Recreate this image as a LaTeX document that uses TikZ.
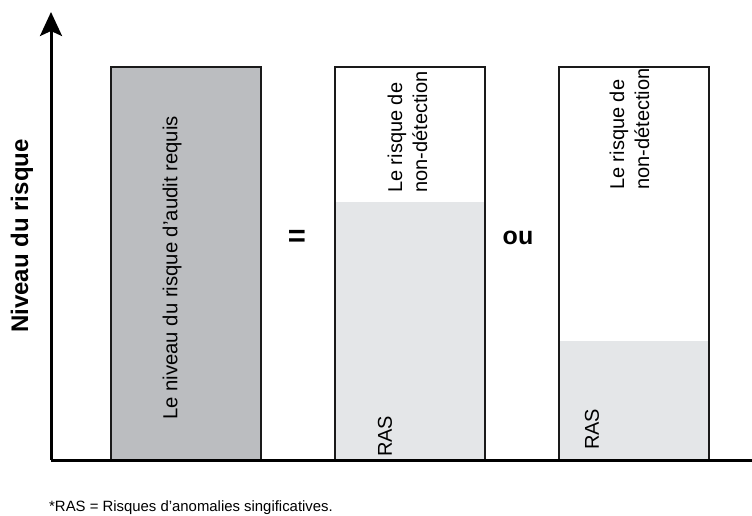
\documentclass[tikz,border=0pt]{standalone}
\usepackage{fontspec}
\setmainfont{Liberation Sans}
\usetikzlibrary{arrows.meta}
\definecolor{reqgray}{HTML}{BBBDC0}
\definecolor{rasgray}{HTML}{E4E6E8}
\definecolor{edge}{HTML}{1A1A1A}
\begin{document}
\begin{tikzpicture}[x=1pt,y=-1pt,
  bar/.style={draw=edge, line width=1.8pt, minimum width=150pt, minimum height=393pt,
              anchor=north west, inner sep=0pt, outer sep=0pt},
  vlabel/.style={rotate=90, anchor=west, inner sep=0pt, font=\fontsize{20}{25}\selectfont},
  axis/.style={line width=3pt, draw=black}]
  \useasboundingbox (0,0) rectangle (752,516);
  % risk bars
  \node[bar, fill=reqgray] (req) at (111,67) {};
  \node[bar, fill=white] (cas1) at (335,67) {};
  \node[bar, fill=white] (cas2) at (559,67) {};
  % share taken by the RAS in each case
  \fill[rasgray] ([xshift=0.9pt]cas1.south west) rectangle ([xshift=-0.9pt]cas1.north east |- 0,202);
  \fill[rasgray] ([xshift=0.9pt]cas2.south west) rectangle ([xshift=-0.9pt]cas2.north east |- 0,341);
  % axes
  \coordinate (origin) at (51,460);
  \coordinate (ytip) at (51,12);
  \coordinate (xend) at (752,460);
  \draw[axis, -{Stealth[length=24pt,width=22pt,inset=5pt]}] (origin) -- (ytip);
  \draw[axis] (origin) -- (xend);
  % labels
  \node[rotate=90, font=\bfseries\fontsize{24}{28}\selectfont] (ylab) at (22,236) {Niveau du risque};
  \node[vlabel, font=\fontsize{20.3}{25}\selectfont] (treq) at (172,420) {Le niveau du risque d'audit requis};
  \node[vlabel, align=left] (tnd1) at (407.5,193) {Le risque de\\non-détection};
  \node[vlabel, align=left] (tnd2) at (629.5,190) {Le risque de\\non-détection};
  \node[vlabel] (ras1) at (385,457) {RAS};
  \node[vlabel] (ras2) at (592,450) {RAS};
  \node[font=\bfseries\fontsize{31}{34}\selectfont] (eq) at (297,238) {=};
  \node[font=\bfseries\fontsize{25}{28}\selectfont] (ou) at (518,238) {ou};
  \node[anchor=west, inner sep=0pt, font=\fontsize{14.9}{17}\selectfont] (note) at (49,508)
    {*RAS = Risques d'anomalies singificatives.};
\end{tikzpicture}
\end{document}
